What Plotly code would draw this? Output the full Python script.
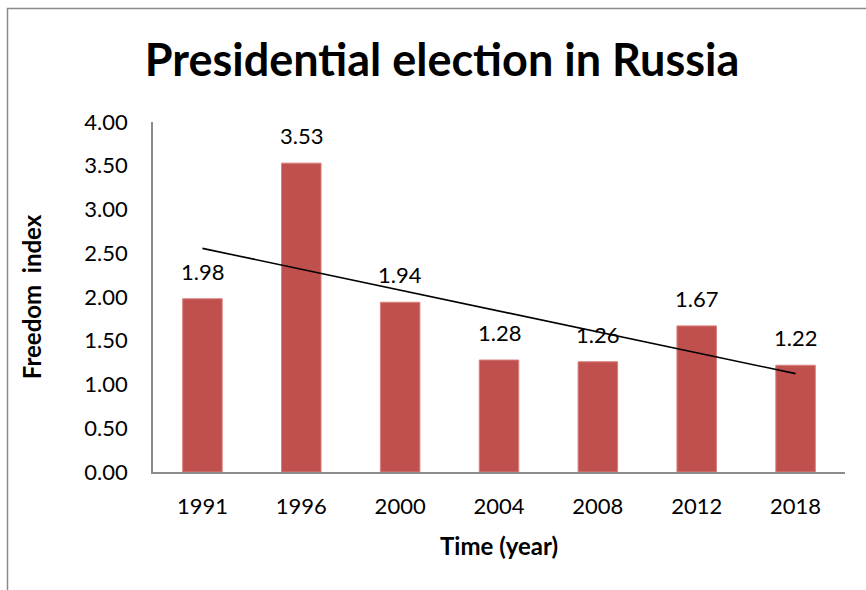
import numpy as np
import plotly.graph_objects as go

# Election years and freedom index values
years = ["1991", "1996", "2000", "2004", "2008", "2012", "2018"]
freedom_index = [1.98, 3.53, 1.94, 1.28, 1.26, 1.67, 1.22]
y_ticks = [0.0, 0.5, 1.0, 1.5, 2.0, 2.5, 3.0, 3.5, 4.0]

FONT = "Lato"
BAR_COLOR = "#C0504D"

# Linear trend fitted over the series order
idx = np.arange(len(freedom_index))
slope, intercept = np.polyfit(idx, freedom_index, 1)
trend = (slope * idx + intercept).tolist()

fig = go.Figure()
fig.add_trace(go.Bar(
    x=years, y=freedom_index,
    marker=dict(color=BAR_COLOR, line=dict(color="#D9827F", width=1)),
    showlegend=False,
))
fig.add_trace(go.Scatter(
    x=years, y=trend, mode="lines",
    line=dict(color="black", width=1.6),
    showlegend=False,
))

# Value labels above each bar (category axis positions are serial indices)
for i, v in enumerate(freedom_index):
    fig.add_annotation(
        x=i, y=v, text=f"{v:.2f}", showarrow=False,
        yanchor="bottom", yshift=12,
        font=dict(family=FONT, size=22, color="black"),
    )

W, H = 866, 590
ml, mr, mt, mb = 153, 21, 122, 118
pw, ph = W - ml - mr, H - mt - mb

def px_x(p):
    return (p - ml) / pw

def px_y(p):
    return (H - mb - p) / ph

# Outer chart frame
fig.add_shape(
    type="rect", xref="paper", yref="paper",
    x0=px_x(7.5), x1=px_x(880), y0=px_y(610), y1=px_y(8.5),
    line=dict(color="#8C8C8C", width=1.5), layer="below",
)

fig.update_layout(
    width=W, height=H,
    margin=dict(l=ml, r=mr, t=mt, b=mb),
    paper_bgcolor="white", plot_bgcolor="white",
    bargap=0.6,
    title=dict(
        text="<b>Presidential election in Russia</b>",
        x=442 / W, xanchor="center", y=1 - 60 / H, yanchor="middle",
        font=dict(family=FONT, size=45, color="black"),
    ),
    font=dict(family=FONT, color="black"),
    xaxis=dict(
        type="category", range=[-0.5, len(years) - 0.5],
        showline=True, linecolor="#8C8C8C", linewidth=1.5,
        showgrid=False, ticks="", ticklabelstandoff=14,
        tickfont=dict(family=FONT, size=22),
        title=dict(text="<b>Time (year)</b>", standoff=20,
                   font=dict(family=FONT, size=24)),
    ),
    yaxis=dict(
        range=[0, 4], tickvals=y_ticks,
        ticktext=[f"{t:.2f}" for t in y_ticks],
        showline=True, linecolor="#8C8C8C", linewidth=1.5,
        showgrid=False, zeroline=False, ticks="", ticklabelstandoff=19,
        tickfont=dict(family=FONT, size=22),
        title=dict(text="<b>Freedom  index</b>", standoff=36,
                   font=dict(family=FONT, size=24)),
    ),
)

fig.write_html("out.html")
